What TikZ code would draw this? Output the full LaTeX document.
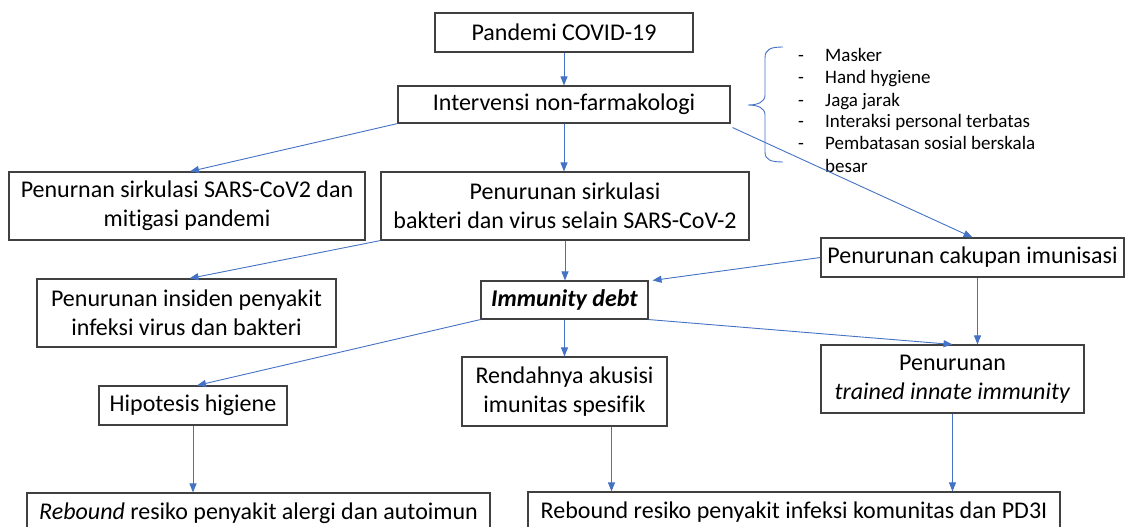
\documentclass[tikz,border=0pt]{standalone}
\usepackage{fontspec}
\setmainfont{Carlito}[Ligatures=NoCommon]
\usetikzlibrary{arrows.meta,calc}
\definecolor{arrowblue}{HTML}{4472C4}
\definecolor{boxgray}{HTML}{404040}
\tikzset{
  box/.style={draw=boxgray, line width=1.1pt, inner sep=0pt, align=center, font=\fontsize{24}{29}\selectfont},
  conn/.style={draw=arrowblue, line width=0.9pt, -{Triangle[length=9pt,width=7pt]}},
  listitem/.style={anchor=west, inner sep=0pt, text height=13pt, text depth=4pt, font=\fontsize{19}{22}\selectfont},
}
\begin{document}
\begin{tikzpicture}[x=1pt,y=-1pt]
\useasboundingbox (0,0) rectangle (1130,527);
% boxes
\node[box, minimum width=258pt, minimum height=39pt] (pandemi) at (564,32.5) {Pandemi COVID-19};
\node[box, minimum width=332pt, minimum height=37pt] (interv) at (564,104.5) {Intervensi non-farmakologi};
\node[box, minimum width=356pt, minimum height=68pt] (sars) at (187,206) {Penurnan sirkulasi SARS-CoV2 dan\\mitigasi pandemi};
\node[box, minimum width=368pt, minimum height=68pt] (bakteri) at (565,206) {Penurunan sirkulasi\\bakteri dan virus selain SARS-CoV-2};
\node[box, minimum width=299pt, minimum height=68pt] (insiden) at (186.5,313) {Penurunan insiden penyakit\\infeksi virus dan bakteri};
\node[box, minimum width=167pt, minimum height=38pt] (immunity) at (564.5,300) {\textbf{\textit{Immunity debt}}};
\node[box, minimum width=303pt, minimum height=39pt] (cakupan) at (972.5,257.5) {Penurunan cakupan imunisasi};
\node[box, minimum width=188pt, minimum height=39pt] (hipotesis) at (193,405.5) {Hipotesis higiene};
\node[box, minimum width=205pt, minimum height=69pt] (rendahnya) at (564.5,391.5) {Rendahnya akusisi\\imunitas spesifik};
\node[box, minimum width=263pt, minimum height=68pt] (trained) at (952.5,379) {Penurunan\\\textit{trained innate immunity}};
\node[box, minimum width=463pt, minimum height=40pt] (alergi) at (258.5,513) {\textit{Rebound} resiko penyakit alergi dan autoimun};
\node[box, minimum width=532pt, minimum height=40pt] (infeksi) at (794,512) {Rebound resiko penyakit infeksi komunitas dan PD3I};
% list
\foreach \y/\t [count=\i] in {57/Masker,79/Hand hygiene,102/Jaga jarak,123/Interaksi personal terbatas,145/Pembatasan sosial berskala}{
  \node[listitem] (dash\i) at (798,\y) {-};
  \node[listitem] (item\i) at (825,\y) {\t};
}
\node[listitem] (item6) at (825,168) {besar};
% brace
\draw[arrowblue, line width=0.9pt]
  (783,47) .. controls (771,47) and (765,49) .. (765,58) -- (765,95)
  .. controls (765,102) and (758,105) .. (748,105)
  .. controls (758,105) and (765,108) .. (765,115) -- (765,152)
  .. controls (765,160) and (771,162) .. (783,162);
% connectors
\draw[conn] (pandemi.south) -- (interv.north);
\draw[conn] (interv.south west) -- ([xshift=3pt]sars.north);
\draw[conn] (interv.south) -- (interv.south |- bakteri.north);
\draw[conn] ([xshift=2pt,yshift=-4pt]interv.south east) -- (cakupan.north);
\draw[conn] (bakteri.south west) -- ([xshift=3pt]insiden.north);
\draw[conn] (bakteri.south) -- (bakteri.south |- immunity.north);
\draw[conn] (cakupan.west) -- ([xshift=4pt]immunity.north east);
\draw[conn] ([xshift=5pt]cakupan.south) -- ([xshift=5pt]cakupan.south |- trained.north);
\draw[conn] (immunity.south west) -- ([xshift=4pt]hipotesis.north);
\draw[conn] (immunity.south) -- (immunity.south |- rendahnya.north);
\draw[conn] (immunity.south east) -- (trained.north);
\draw[conn] (hipotesis.south) -- (hipotesis.south |- alergi.north);
\draw[conn] ([xshift=47pt]rendahnya.south) -- ([xshift=47pt]rendahnya.south |- infeksi.north);
\draw[conn] (trained.south) -- (trained.south |- infeksi.north);
\end{tikzpicture}
\end{document}
